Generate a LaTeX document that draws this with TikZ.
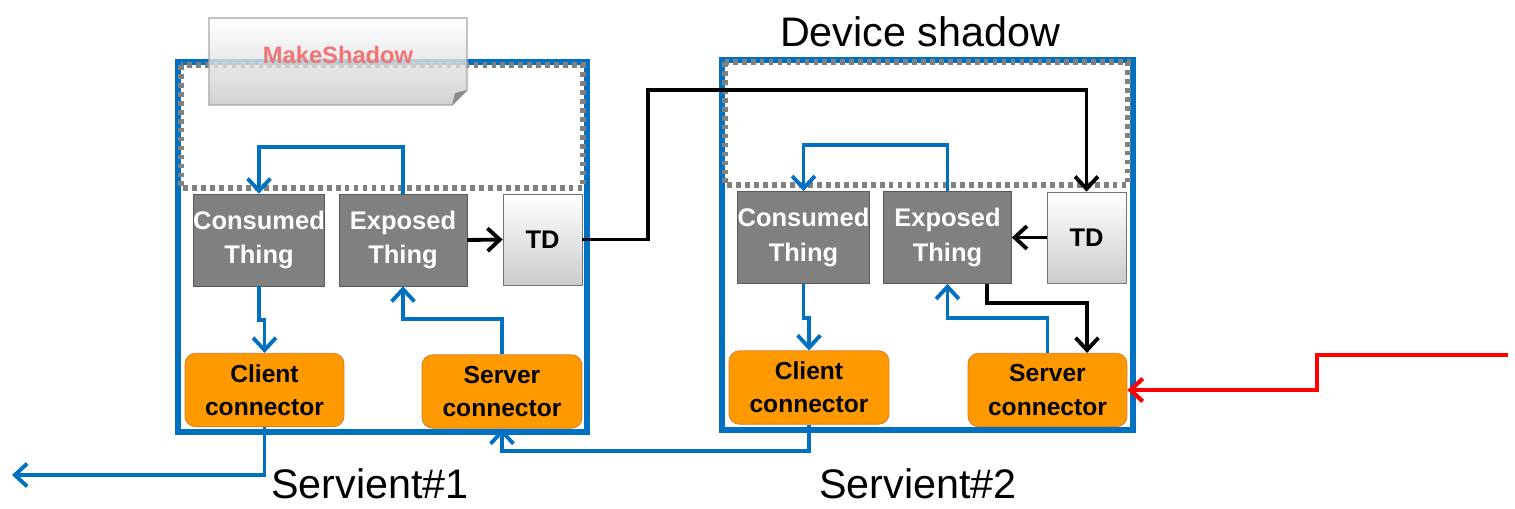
\documentclass[tikz,border=0pt]{standalone}
\usepackage{fontspec}
\setmainfont{Liberation Sans}
\usetikzlibrary{arrows.meta}

\definecolor{wotblue}{HTML}{0070C0}
\definecolor{wotorange}{HTML}{FF9900}
\definecolor{wotedge}{HTML}{D0782A}
\definecolor{shadowred}{HTML}{F07474}

\begin{document}
\begin{tikzpicture}[x=0.02cm, y=-0.02cm,
        thing/.style={draw=black!65, fill=black!50, text=white, align=center, inner sep=0pt,
            font=\bfseries\fontsize{14.5}{19.5}\selectfont, minimum width=2.56cm, minimum height=1.84cm},
        tdbox/.style={draw=black!55, top color=white, bottom color=black!20, inner sep=0pt,
            font=\bfseries\fontsize{14.5}{17}\selectfont, minimum width=1.58cm, minimum height=1.82cm},
        conn/.style={draw=wotedge, fill=wotorange, rounded corners=6pt, align=center, inner sep=0pt,
            font=\bfseries\fontsize{14}{19}\selectfont, minimum width=3.18cm, minimum height=1.47cm},
        servient/.style={draw=wotblue, line width=3.2pt},
        shadowbox/.style={draw=black!50, line width=3pt, dash pattern=on 2.7pt off 2.4pt},
        barrow/.style={draw=wotblue, line width=2.2pt, -{Straight Barb[length=7pt,width=13pt]}},
        karrow/.style={draw=black, line width=2.2pt, -{Straight Barb[length=7pt,width=13pt]}},
        rarrow/.style={draw=red, line width=2.4pt, -{Straight Barb[length=7pt,width=13pt]}},
        biglabel/.style={font=\fontsize{23.5}{28}\selectfont, inner sep=0pt}]
        \useasboundingbox (0,0) rectangle (1515,508);

        % the two servients and their shadow areas
        \draw[servient] (178,62) rectangle (587,432);
        \draw[servient] (722,60) rectangle (1133,430);
        \draw[shadowbox] (181,65) rectangle (583,188);
        \draw[shadowbox] (725,62) rectangle (1128,185);

        % MakeShadow note (see-through, folded corner)
        \shade[top color=white, bottom color=black!22, fill opacity=0.8, draw=black!35, line width=0.8pt]
            (209,18) -- (467,18) -- (467,90) -- (452,105) -- (209,105) -- cycle;
        \fill[black!45] (452,105) -- (455,93) -- (467,90) -- cycle;
        \node[text=shadowred, font=\bfseries\fontsize{13.5}{16}\selectfont] (mk) at (338,55) {MakeShadow};

        % labels
        \node[biglabel] (shadowlbl) at (920,32) {Device shadow};
        \node[biglabel] (sv1lbl) at (370,484) {Servient\#1};
        \node[biglabel] (sv2lbl) at (918,484) {Servient\#2};

        % servient 1
        \node[thing] (ct1) at (259,240) {Consumed\\Thing};
        \node[thing] (et1) at (403,240) {Exposed\\Thing};
        \node[tdbox] (td1) at (542.5,239.5) {TD};
        \node[conn] (cc1) at (264.5,390) {Client\\connector};
        \node[conn, minimum width=3.2cm] (sc1) at (502,391.5) {Server\\connector};

        % servient 2
        \node[thing] (ct2) at (803.5,237.5) {Consumed\\Thing};
        \node[thing] (et2) at (947.5,237.5) {Exposed\\Thing};
        \node[tdbox] (td2) at (1086.5,237.5) {TD};
        \node[conn, minimum width=3.2cm] (cc2) at (809,387.5) {Client\\connector};
        \node[conn] (sc2) at (1047.5,390) {Server\\connector};

        \coordinate (out1) at (12,475);
        \coordinate (redin) at (1508,355);

        % inside servient 1
        \draw[barrow] (et1.north) |- (260,147) -| (ct1.north);
        \draw[barrow] (ct1.south) -- ++(0,34) -| (cc1.north);
        \draw[barrow] (sc1.north) -- ++(0,-35) -| (et1.south);
        \draw[karrow] (et1.east) -- (td1.west);

        % inside servient 2
        \draw[barrow] (et2.north) |- (804,145) -| (ct2.north);
        \draw[barrow] (ct2.south) -- ++(0,34) -| (cc2.north);
        \draw[barrow] (sc2.north) -- ++(0,-35) -| (et2.south);
        \draw[karrow] (td2.west) -- (et2.east);
        \draw[karrow] ([xshift=0.79cm]et2.south) -- ++(0,19) -| ([xshift=0.79cm]sc2.north);

        % between the servients
        \draw[karrow] (td1.east) -| (648,90) -| (td2.north);
        \draw[barrow] (cc2.south) -- ++(0,26) -| (sc1.south);
        \draw[barrow] (cc1.south) |- (out1);
        \draw[rarrow] (redin) -- (1317,355) |- (sc2.east);

    \end{tikzpicture}
\end{document}
